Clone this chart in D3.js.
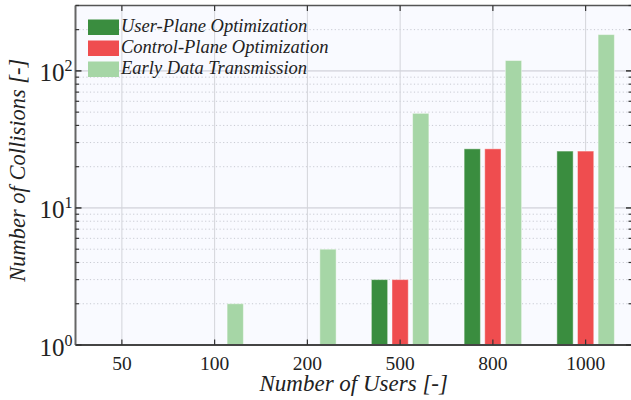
<!DOCTYPE html>
<html>
<head>
<meta charset="utf-8">
<script src="https://cdn.jsdelivr.net/npm/d3@7"></script>
<style>
  html, body { margin: 0; padding: 0; background: #ffffff; }
  svg { display: block; }
</style>
</head>
<body>
<svg id="chart" width="631" height="400"></svg>
<script>
// Number of users per scenario (x categories)
const users = ["50", "100", "200", "500", "800", "1000"];
// Series names
const seriesNames = ["User-Plane Optimization", "Control-Plane Optimization", "Early Data Transmission"];
// Collisions per scenario (0 = no collisions, not drawn on log axis)
const userPlane    = [0, 0, 0, 3, 27, 26];
const controlPlane = [0, 0, 0, 3, 27, 26];
const earlyData    = [0, 2, 5, 49, 119, 184];
const seriesColors = ["#3a8d3f", "#ef4d4f", "#a6d6a6"];
const yMajorTicks = [1, 10, 100];

const seriesValues = [userPlane, controlPlane, earlyData];
const serif = "'Liberation Serif', 'Times New Roman', Times, 'DejaVu Serif', serif";

const svg = d3.select("#chart")
  .attr("font-family", serif)
  .style("font-family", serif);
const plot = { left: 75.5, right: 632, top: 5.5, bottom: 345 };

const x = d3.scaleBand().domain(users).range([plot.left, plot.right]).padding(0);
const xSub = d3.scaleBand().domain(seriesNames).range([0, x.bandwidth()])
  .paddingInner(0.21).paddingOuter(0.855);
const y = d3.scaleLog().domain([1, 300]).range([plot.bottom, plot.top]);

// plot background
svg.append("rect")
  .attr("x", plot.left).attr("y", plot.top)
  .attr("width", plot.right - plot.left).attr("height", plot.bottom - plot.top)
  .attr("fill", "#f9faff");

// minor gridlines (dotted)
const minorVals = [];
for (let d = 1; d <= 100; d *= 10) {
  for (let m = 2; m <= 9; m++) {
    const v = m * d;
    if (v <= 300) minorVals.push(v);
  }
}
const grid = svg.append("g");
grid.selectAll("line.minor").data(minorVals).join("line")
  .attr("class", "minor")
  .attr("x1", plot.left).attr("x2", plot.right)
  .attr("y1", d => y(d)).attr("y2", d => y(d))
  .attr("stroke", "#c9cbd3").attr("stroke-width", 1)
  .attr("stroke-dasharray", "1.2,2.4");

// major gridlines
grid.selectAll("line.major").data(yMajorTicks.slice(1)).join("line")
  .attr("class", "major")
  .attr("x1", plot.left).attr("x2", plot.right)
  .attr("y1", d => y(d)).attr("y2", d => y(d))
  .attr("stroke", "#dcdde4").attr("stroke-width", 1.8);

// vertical gridlines at category centres
grid.selectAll("line.vx").data(users).join("line")
  .attr("class", "vx")
  .attr("x1", d => x(d) + x.bandwidth() / 2).attr("x2", d => x(d) + x.bandwidth() / 2)
  .attr("y1", plot.top).attr("y2", plot.bottom)
  .attr("stroke", "#d3d4da").attr("stroke-width", 1);

// bars
const barData = [];
users.forEach((u, i) => {
  seriesNames.forEach((s, k) => {
    const v = seriesValues[k][i];
    if (v > 0) barData.push({ u, s, v, k });
  });
});
svg.append("g").selectAll("rect").data(barData).join("rect")
  .attr("x", d => x(d.u) + xSub(d.s))
  .attr("width", xSub.bandwidth())
  .attr("y", d => y(d.v))
  .attr("height", d => y(1) - y(d.v))
  .attr("fill", d => seriesColors[d.k])
  .attr("stroke", "#ffffff").attr("stroke-opacity", 0.45).attr("stroke-width", 1);

// frame
const frame = svg.append("g").attr("stroke", "#555").attr("fill", "none");
frame.append("line").attr("x1", plot.left).attr("x2", plot.right).attr("y1", plot.top).attr("y2", plot.top).attr("stroke-width", 1.5);
frame.append("line").attr("x1", plot.left).attr("x2", plot.right).attr("y1", plot.bottom).attr("y2", plot.bottom).attr("stroke-width", 2).attr("stroke", "#444");
frame.append("line").attr("x1", plot.left).attr("x2", plot.left).attr("y1", plot.top).attr("y2", plot.bottom).attr("stroke-width", 2).attr("stroke", "#666");

// x ticks (inward, bottom and top)
const tk = svg.append("g").attr("stroke", "#333").attr("stroke-width", 1.2);
users.forEach(u => {
  const cx = x(u) + x.bandwidth() / 2;
  tk.append("line").attr("x1", cx).attr("x2", cx).attr("y1", plot.bottom).attr("y2", plot.bottom - 5.5);
  tk.append("line").attr("x1", cx).attr("x2", cx).attr("y1", plot.top).attr("y2", plot.top + 5.5);
});
// y ticks (inward, left and right)
yMajorTicks.forEach(v => {
  tk.append("line").attr("x1", plot.left).attr("x2", plot.left + 6).attr("y1", y(v)).attr("y2", y(v)).attr("stroke-width", 1.5);
  tk.append("line").attr("x1", plot.right).attr("x2", plot.right - 6).attr("y1", y(v)).attr("y2", y(v)).attr("stroke-width", 1.5);
});
minorVals.forEach(v => {
  tk.append("line").attr("x1", plot.left).attr("x2", plot.left + 3.5).attr("y1", y(v)).attr("y2", y(v));
  tk.append("line").attr("x1", plot.right).attr("x2", plot.right - 3.5).attr("y1", y(v)).attr("y2", y(v));
});

// x tick labels
svg.append("g").selectAll("text").data(users).join("text")
  .attr("x", d => x(d) + x.bandwidth() / 2)
  .attr("y", 370)
  .attr("text-anchor", "middle")
  .attr("font-size", 19.5)
  .attr("fill", "#222")
  .text(d => d);

// y tick labels as 10^n
const yl = svg.append("g").selectAll("text").data(yMajorTicks).join("text")
  .attr("x", 39.5)
  .attr("y", d => y(d) + 10.5)
  .attr("font-size", 25)
  .attr("fill", "#222");
yl.append("tspan").text("10");
yl.append("tspan")
  .attr("dy", -10).attr("font-size", 16)
  .text(d => String(Math.round(Math.log10(d))));

// axis titles
svg.append("text")
  .attr("x", (plot.left + plot.right) / 2).attr("y", 391)
  .attr("text-anchor", "middle").attr("font-style", "italic").attr("font-size", 23)
  .attr("fill", "#222")
  .text("Number of Users [-]");
svg.append("text")
  .attr("transform", `translate(25,${(plot.top + plot.bottom) / 2 - 5}) rotate(-90)`)
  .attr("text-anchor", "middle").attr("font-style", "italic").attr("font-size", 22.5)
  .attr("fill", "#222")
  .text("Number of Collisions [-]");

// legend
const legend = svg.append("g").selectAll("g").data(seriesNames).join("g")
  .attr("transform", (d, i) => `translate(88,${19.5 + i * 21})`);
legend.append("rect")
  .attr("width", 31).attr("height", 15.5)
  .attr("fill", (d, i) => seriesColors[i]);
legend.append("text")
  .attr("x", 33).attr("y", 12.8)
  .attr("font-style", "italic").attr("font-size", 18.5)
  .attr("fill", "#222")
  .text(d => d);
</script>
</body>
</html>
